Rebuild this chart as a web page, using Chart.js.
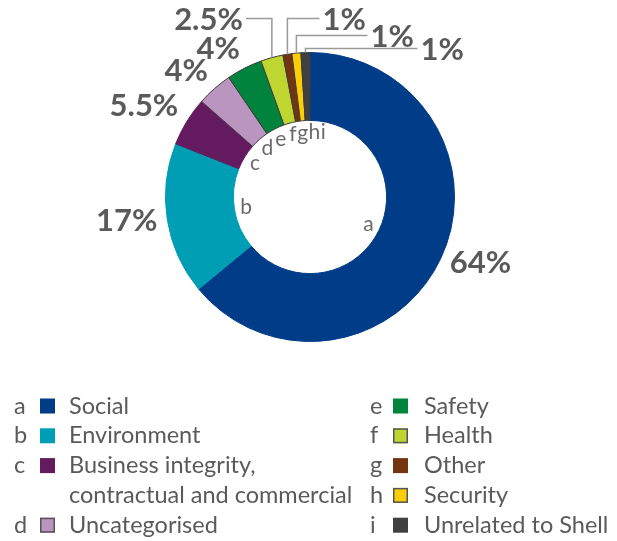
<!DOCTYPE html>
<html>
<head>
<meta charset="utf-8">
<script src="https://cdn.jsdelivr.net/npm/chart.js@4"></script>
<style>
  html, body { margin: 0; padding: 0; background: #fff; }
  canvas { display: block; }
</style>
</head>
<body>
<canvas id="myChart" width="617" height="541"></canvas>
<script>
// data
var letters = ['a', 'b', 'c', 'd', 'e', 'f', 'g', 'h', 'i'];
var categories = [
  'Social',
  'Environment',
  'Business integrity,\ncontractual and commercial',
  'Uncategorised',
  'Safety',
  'Health',
  'Other',
  'Security',
  'Unrelated to Shell'
];
var shares = [64, 17, 5.5, 4, 4, 2.5, 1, 1, 1];
var shareLabels = ['64%', '17%', '5.5%', '4%', '4%', '2.5%', '1%', '1%', '1%'];

var fills = ['#003c88', '#009eb4', '#641a5e', '#b995bf', '#00843d', '#bed62f', '#743410', '#fbce07', '#404040'];
var edges = ['#003c88', '#009eb4', '#641a5e', '#3c3c3c', '#3c3c3c', '#3c3c3c', '#3c3c3c', '#3c3c3c', '#3c3c3c'];

// leader lines for the thin slices: how far up above the ring, then how far sideways
var leaders = {
  5: { rise: 34, run: -26 },
  6: { rise: 34, run: 32 },
  7: { rise: 17, run: 71 },
  8: { rise: 4, run: 112 }
};

var textGrey = '#5a5a5a';

var labelPlugin = {
  id: 'labels',
  afterDraw: function (chart) {
    var ctx = chart.ctx;
    var meta = chart.getDatasetMeta(0);
    ctx.save();

    var prevRight = null;
    meta.data.forEach(function (arc, i) {
      var p = arc.getProps(['x', 'y', 'startAngle', 'endAngle', 'outerRadius', 'innerRadius'], true);
      var mid = (p.startAngle + p.endAngle) / 2;
      var dx = Math.cos(mid), dy = Math.sin(mid);

      // percentage labels
      ctx.font = 'bold 31px Lato';
      ctx.fillStyle = textGrey;
      if (leaders[i]) {
        var sx = p.x + dx * p.outerRadius;
        var sy = p.y + dy * p.outerRadius;
        var ey = p.y - p.outerRadius - leaders[i].rise;
        var ex = sx + leaders[i].run;
        ctx.strokeStyle = '#9a9a9a';
        ctx.lineWidth = 1.5;
        ctx.beginPath();
        ctx.moveTo(sx, sy);
        ctx.lineTo(sx, ey);
        ctx.lineTo(ex, ey);
        ctx.stroke();
        ctx.textBaseline = 'middle';
        ctx.textAlign = leaders[i].run < 0 ? 'right' : 'left';
        ctx.fillText(shareLabels[i], ex + (leaders[i].run < 0 ? -3 : 3), ey + 1);
      } else {
        var r = p.outerRadius + 10;
        ctx.textAlign = dx > 0 ? 'left' : 'right';
        ctx.textBaseline = dy < -0.3 ? 'alphabetic' : 'middle';
        ctx.fillText(shareLabels[i], p.x + dx * r, p.y + dy * r);
      }

      // small letters inside the hole
      ctx.font = '21px Lato';
      ctx.fillStyle = '#6a6a6a';
      ctx.textAlign = 'left';
      ctx.textBaseline = 'middle';
      var ri = p.innerRadius - 12;
      var w = ctx.measureText(letters[i]).width;
      var lx = p.x + dx * ri - w / 2;
      var ly = p.y + dy * ri;
      if (prevRight !== null && i > 4 && lx < prevRight + 0.5) lx = prevRight + 0.5;
      ctx.fillText(letters[i], lx, ly);
      prevRight = lx + w;
    });

    // legend, two columns
    var cols = [
      { from: 0, to: 3, letterX: 14, boxX: 40, textX: 69 },
      { from: 4, to: 8, letterX: 370, boxX: 393, textX: 424 }
    ];
    var top = 406, step = 29.8;
    cols.forEach(function (col) {
      var row = 0;
      for (var i = col.from; i <= col.to; i++) {
        var y = top + row * step;
        ctx.font = '23.5px Lato';
        ctx.fillStyle = textGrey;
        ctx.textAlign = 'left';
        ctx.textBaseline = 'middle';
        ctx.fillText(letters[i], col.letterX, y);
        ctx.fillStyle = fills[i];
        ctx.fillRect(col.boxX, y - 7.5, 15, 15);
        if (edges[i] !== fills[i] && i !== 4 && i !== 6 && i !== 8) {
          ctx.strokeStyle = '#555';
          ctx.lineWidth = 1.5;
          ctx.strokeRect(col.boxX + 0.75, y - 6.75, 13.5, 13.5);
        }
        ctx.fillStyle = textGrey;
        var lines = categories[i].split('\n');
        lines.forEach(function (line, k) {
          ctx.fillText(line, col.textX, y + k * step);
        });
        row += lines.length;
      }
    });

    ctx.restore();
  }
};

var ctx = document.getElementById('myChart');
var myChart = new Chart(ctx, {
  type: 'doughnut',
  data: {
    labels: categories,
    datasets: [{
      data: shares,
      backgroundColor: fills,
      borderColor: edges,
      borderWidth: 1
    }]
  },
  options: {
    responsive: false,
    animation: false,
    cutout: '53%',
    layout: { padding: { left: 165, right: 162, top: 52, bottom: 199 } },
    plugins: {
      legend: { display: false },
      tooltip: { enabled: false }
    }
  },
  plugins: [labelPlugin]
});
</script>
</body>
</html>
